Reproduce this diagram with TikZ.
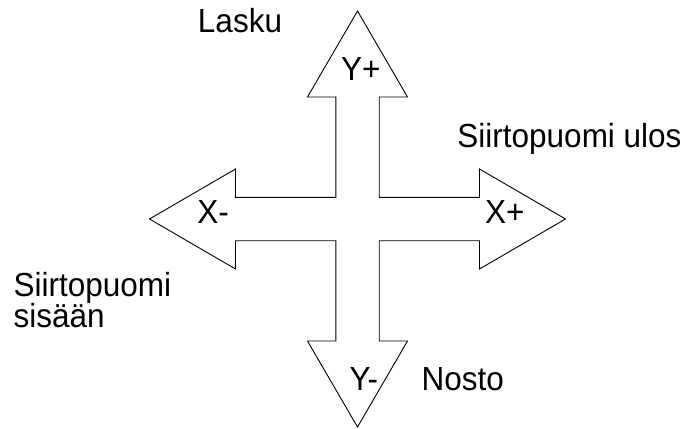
\documentclass[tikz,border=0pt]{standalone}
\usepackage{fontspec}
\usepackage{graphicx}
\setmainfont{Liberation Sans}
\usetikzlibrary{calc}
% labels are set slightly taller than the font's natural proportions
\newcommand{\tall}[1]{\scalebox{1}[1.06]{#1}}
\begin{document}
\begin{tikzpicture}[x=1pt,y=-1pt,
  lbl/.style={inner sep=0pt,anchor=base,font=\fontsize{31.5}{31.5}\selectfont},
  lblw/.style={inner sep=0pt,anchor=base west,font=\fontsize{31.5}{31.5}\selectfont},
  cross/.style={draw=black,line width=0.9pt,line join=miter,fill=white}]
\useasboundingbox (0,0) rectangle (687,428);
% geometry of the four-way arrow
\def\cx{357.5}\def\cy{219}
\def\sh{21.7}\def\bs{122}\def\tp{208}\def\hw{50}
\coordinate (c) at (\cx,\cy);
\draw[cross]
  ($(c)+(0,-\tp)$) -- ($(c)+(\hw,-\bs)$) -- ($(c)+(\sh,-\bs)$) -- ($(c)+(\sh,-\sh)$)
  -- ($(c)+(\bs,-\sh)$) -- ($(c)+(\bs,-\hw)$) -- ($(c)+(\tp,0)$) -- ($(c)+(\bs,\hw)$)
  -- ($(c)+(\bs,\sh)$) -- ($(c)+(\sh,\sh)$) -- ($(c)+(\sh,\bs)$) -- ($(c)+(\hw,\bs)$)
  -- ($(c)+(0,\tp)$) -- ($(c)+(-\hw,\bs)$) -- ($(c)+(-\sh,\bs)$) -- ($(c)+(-\sh,\sh)$)
  -- ($(c)+(-\bs,\sh)$) -- ($(c)+(-\bs,\hw)$) -- ($(c)+(-\tp,0)$) -- ($(c)+(-\bs,-\hw)$)
  -- ($(c)+(-\bs,-\sh)$) -- ($(c)+(-\sh,-\sh)$) -- ($(c)+(-\sh,-\bs)$) -- ($(c)+(-\hw,-\bs)$)
  -- cycle;
% direction labels inside the arrowheads
\node[lbl] (yplus) at (360.8,80) {\tall{Y+}};
\node[lbl] (xminus) at (213.2,223.3) {\tall{X-}};
\node[lbl] (xplus) at (504.7,223.3) {\tall{X+}};
\node[lbl] (yminus) at (363.8,390) {\tall{Y-}};
% movement names
\node[lbl] (lasku) at (240,32.5) {\tall{Lasku}};
\node[lbl] (ulos) at (569.5,147) {\tall{Siirtopuomi ulos}};
\node[lblw] (sisaan1) at (13.5,296.5) {\tall{Siirtopuomi}};
\node[lblw] (sisaan2) at (13.5,327.5) {\tall{sisään}};
\node[lbl] (nosto) at (462.7,390) {\tall{Nosto}};
\end{tikzpicture}
\end{document}
